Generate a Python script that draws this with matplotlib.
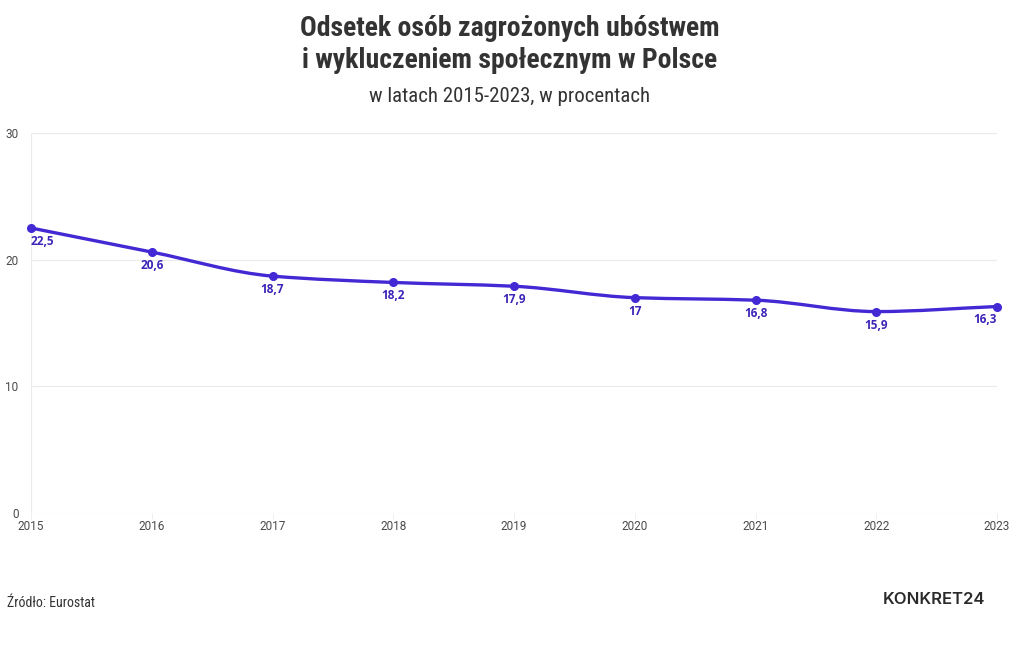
import matplotlib
matplotlib.use("Agg")
import matplotlib.pyplot as plt
from matplotlib import font_manager
from matplotlib.path import Path
import matplotlib.patches as ppatches

years = [2015, 2016, 2017, 2018, 2019, 2020, 2021, 2022, 2023]
values = [22.5, 20.6, 18.7, 18.2, 17.9, 17.0, 16.8, 15.9, 16.3]
labels = ["22,5", "20,6", "18,7", "18,2", "17,9", "17", "16,8", "15,9", "16,3"]
y_ticks = [0, 10, 20, 30]

title = "Odsetek osób zagrożonych ubóstwem\ni wykluczeniem społecznym w Polsce"
subtitle = "w latach 2015-2023, w procentach"
source = "Źródło: Eurostat"

fonts = font_manager.fontManager.ttflist
installed = set(f.name for f in fonts)


def pick_font(names, bold=False):
    for name in names:
        for f in fonts:
            if f.name != name:
                continue
            if not bold:
                return name
            w = f.weight
            if isinstance(w, str):
                w = font_manager.weight_dict.get(w, 400)
            if w >= 600:
                return name
    return "DejaVu Sans"


cond_font = pick_font(["Roboto Condensed", "Liberation Sans Narrow", "Roboto"])
label_font = pick_font(["Source Sans Pro", "Source Sans 3", "Open Sans",
                        "Noto Sans", "Roboto"], bold=True)
tick_font = pick_font(["Roboto", "Noto Sans"])

line_color = "#4229d4"
label_color = "#3b24b8"
text_color = "#333333"
tick_color = "#4a4a4a"
grid_color = "#ebebeb"


def monotone_path(xs, ys):
    # monotone cubic (Fritsch-Carlson) as bezier segments
    n = len(xs)
    d = [(ys[i + 1] - ys[i]) / (xs[i + 1] - xs[i]) for i in range(n - 1)]
    m = [d[0]] + [0.0] * (n - 2) + [d[-1]]
    for i in range(1, n - 1):
        if d[i - 1] * d[i] <= 0:
            m[i] = 0.0
        else:
            m[i] = 2.0 / (1.0 / d[i - 1] + 1.0 / d[i])
    verts = [(xs[0], ys[0])]
    codes = [Path.MOVETO]
    for i in range(n - 1):
        h = xs[i + 1] - xs[i]
        verts.append((xs[i] + h / 3.0, ys[i] + m[i] * h / 3.0))
        verts.append((xs[i + 1] - h / 3.0, ys[i + 1] - m[i + 1] * h / 3.0))
        verts.append((xs[i + 1], ys[i + 1]))
        codes.extend([Path.CURVE4] * 3)
    return Path(verts, codes)


fig = plt.figure(figsize=(10.2, 6.5), dpi=100)
fig.patch.set_facecolor("white")
ax = fig.add_axes([0.0304, 0.2108, 0.9471, 0.5846])

ax.set_xlim(years[0], years[-1])
ax.set_ylim(0, 30)

for yt in y_ticks:
    ax.axhline(yt, color=grid_color, lw=0.8, zorder=0)
ax.axvline(years[0], color=grid_color, lw=0.8, zorder=0)

curve = ppatches.PathPatch(monotone_path(years, values), facecolor="none",
                           edgecolor=line_color, lw=2.4, capstyle="round",
                           joinstyle="round", zorder=3)
ax.add_patch(curve)
ax.plot(years, values, "o", color=line_color, ms=5.5, zorder=4, clip_on=False)

for i, (x, v, lab) in enumerate(zip(years, values, labels)):
    ha = "center"
    if i == 0:
        ha = "left"
    elif i == len(years) - 1:
        ha = "right"
    ax.annotate(lab, (x, v), xytext=(0, -5), textcoords="offset points",
                ha=ha, va="top", fontsize=8.5, fontweight="bold",
                color=label_color, family=label_font, zorder=5)

for spine in ax.spines.values():
    spine.set_visible(False)

ax.set_yticks(y_ticks)
ax.set_yticklabels([str(t) for t in y_ticks])
ax.set_xticks(years)
ax.set_xticklabels([str(y) for y in years])
ax.tick_params(axis="y", length=0, pad=9, labelsize=8.5, labelcolor=tick_color)
ax.tick_params(axis="x", length=4, width=0.6, color=grid_color, pad=1,
               labelsize=8.5, labelcolor=tick_color)
for t in ax.get_xticklabels() + ax.get_yticklabels():
    t.set_family(tick_font)

fig.text(0.5, 0.977, title, ha="center", va="top", fontsize=20,
         fontweight="bold", color=text_color, family=cond_font,
         linespacing=1.22)
fig.text(0.5, 0.852, subtitle, ha="center", va="center", fontsize=15,
         color=text_color, family=cond_font)
fig.text(0.007, 0.072, source, ha="left", va="center", fontsize=10,
         color=text_color, family=cond_font)
fig.text(0.966, 0.077, "KONKRET24", ha="right", va="center", fontsize=12,
         fontweight="semibold", color="#2a2a2a",
         family=pick_font(["Inter", "Lato"]))

fig.savefig("out.png", dpi=100, facecolor="white")
